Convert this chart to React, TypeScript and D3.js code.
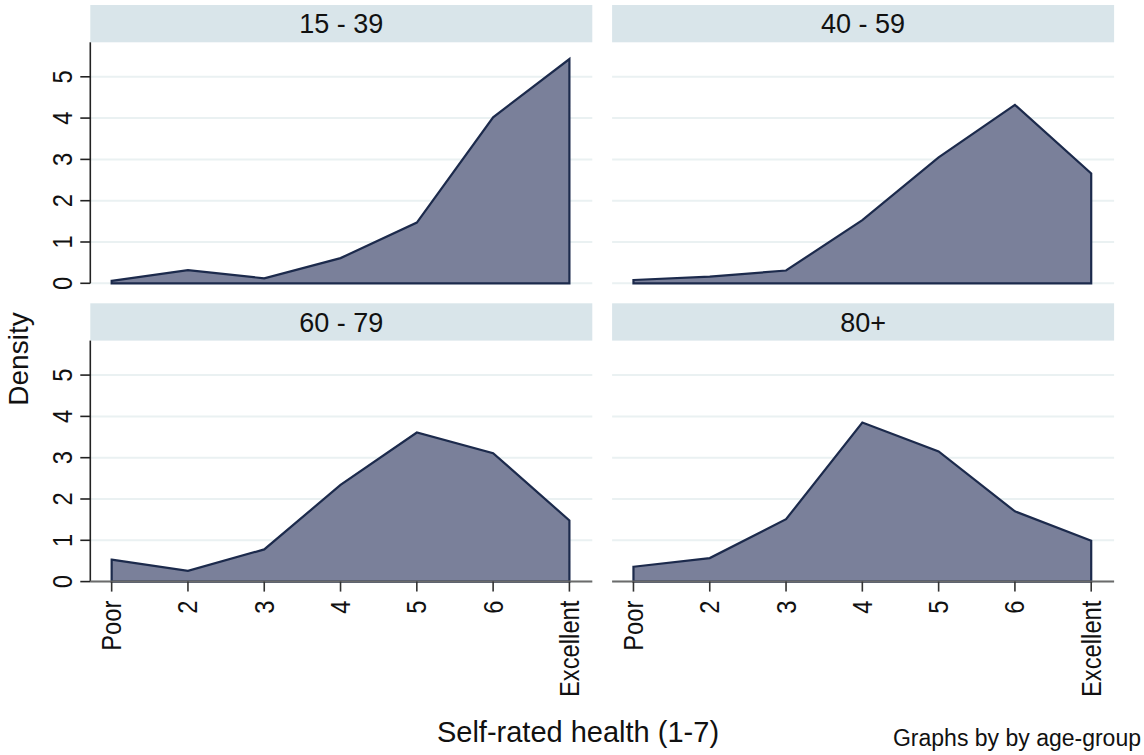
import { useRef, useEffect } from 'react';
import * as d3 from 'd3';

// self-rated health categories (1-7) and their tick labels
const CATEGORIES = [1, 2, 3, 4, 5, 6, 7];
const X_TICK_LABELS = ['Poor', '2', '3', '4', '5', '6', 'Excellent'];
const Y_TICKS = [0, 1, 2, 3, 4, 5];

const GROUPS = ['15 - 39', '40 - 59', '60 - 79', '80+'];

const DENSITY_15_39 = [0.06, 0.32, 0.12, 0.61, 1.47, 4.02, 5.43];
const DENSITY_40_59 = [0.08, 0.16, 0.31, 1.53, 3.05, 4.32, 2.66];
const DENSITY_60_79 = [0.53, 0.26, 0.78, 2.34, 3.61, 3.11, 1.48];
const DENSITY_80_PLUS = [0.36, 0.57, 1.51, 3.85, 3.15, 1.70, 0.99];

const FONT = '"Liberation Sans", Arial, sans-serif';

export default function App() {
  const ref = useRef<SVGSVGElement>(null);

  useEffect(() => {
    if (!ref.current) return;
    const svg = d3.select(ref.current);
    svg.selectAll('*').remove();

    const panels = [DENSITY_15_39, DENSITY_40_59, DENSITY_60_79, DENSITY_80_PLUS].map((vals, i) => ({
      title: GROUPS[i],
      data: CATEGORIES.map((c, j) => ({ c, v: vals[j] })),
    }));

    const panelW = 502;
    const headerH = 37.3;
    const plotH = 241;
    const colX = [90.3, 612.1];
    const rowY = [5, 303.3];

    const x = d3.scaleLinear().domain([0.72, 7.3]).range([0, panelW]);
    const y = d3.scaleLinear().domain([0, 5.835]).range([plotH, 0]);

    const area = d3.area<{ c: number; v: number }>()
      .x(d => x(d.c))
      .y0(y(0))
      .y1(d => y(d.v));

    // tick labels are a little condensed, like Stata's output
    const squeeze = 'scale(0.88,1)';

    panels.forEach((p, i) => {
      const col = i % 2;
      const row = Math.floor(i / 2);
      const g = svg.append('g').attr('transform', `translate(${colX[col]},${rowY[row]})`);

      // strip header
      g.append('rect')
        .attr('width', panelW).attr('height', headerH)
        .attr('fill', '#d9e5ea');
      g.append('text')
        .attr('x', panelW / 2).attr('y', 28.3)
        .attr('text-anchor', 'middle')
        .attr('font-size', 27).attr('fill', '#111')
        .text(p.title);

      const pg = g.append('g').attr('transform', `translate(0,${headerH})`);

      // grid
      pg.selectAll('line.grid')
        .data(Y_TICKS)
        .join('line')
        .attr('x1', 0).attr('x2', panelW)
        .attr('y1', d => y(d)).attr('y2', d => y(d))
        .attr('stroke', '#eaf1f2').attr('stroke-width', 2);

      // area
      pg.append('path')
        .datum(p.data)
        .attr('d', area)
        .attr('fill', '#7a809a')
        .attr('stroke', '#1c2a4c')
        .attr('stroke-width', 2.2)
        .attr('stroke-linejoin', 'miter');

      // y axis on left column
      if (col === 0) {
        pg.append('line')
          .attr('x1', 0).attr('x2', 0).attr('y1', 0).attr('y2', plotH)
          .attr('stroke', '#222').attr('stroke-width', 1.6);
        Y_TICKS.forEach(t => {
          pg.append('line')
            .attr('x1', -10).attr('x2', 0)
            .attr('y1', y(t)).attr('y2', y(t))
            .attr('stroke', '#222').attr('stroke-width', 1.6);
          pg.append('text')
            .attr('transform', `translate(-18.8,${y(t)}) rotate(-90) ${squeeze}`)
            .attr('text-anchor', 'middle')
            .attr('font-size', 27).attr('fill', '#111')
            .text(String(t));
        });
      }

      // x axis on bottom row
      if (row === 1) {
        pg.append('line')
          .attr('x1', 0).attr('x2', panelW).attr('y1', plotH).attr('y2', plotH)
          .attr('stroke', '#6b6b6b').attr('stroke-width', 2);
        CATEGORIES.forEach((c, j) => {
          pg.append('line')
            .attr('x1', x(c)).attr('x2', x(c))
            .attr('y1', plotH).attr('y2', plotH + 10)
            .attr('stroke', '#333').attr('stroke-width', 1.6);
          pg.append('text')
            .attr('transform', `translate(${x(c)},${plotH + 19}) rotate(-90) ${squeeze}`)
            .attr('text-anchor', 'end')
            .attr('dy', '0.35em')
            .attr('font-size', 27).attr('fill', '#111')
            .text(X_TICK_LABELS[j]);
        });
      }
    });

    // axis titles and note
    svg.append('text')
      .attr('transform', 'translate(27.7,359) rotate(-90)')
      .attr('text-anchor', 'middle')
      .attr('font-size', 28).attr('fill', '#111')
      .text('Density');

    svg.append('text')
      .attr('x', 578).attr('y', 742)
      .attr('text-anchor', 'middle')
      .attr('font-size', 29).attr('fill', '#111')
      .text('Self-rated health (1-7)');

    svg.append('text')
      .attr('x', 1141).attr('y', 746)
      .attr('text-anchor', 'end')
      .attr('font-size', 23).attr('fill', '#111')
      .text('Graphs by by age-group');
  }, []);

  return (
    <div style={{ position: 'absolute', left: 0, top: 0 }}>
      <svg ref={ref} width={1144} height={755} style={{ display: 'block', background: '#fff', fontFamily: FONT }} />
    </div>
  );
}
